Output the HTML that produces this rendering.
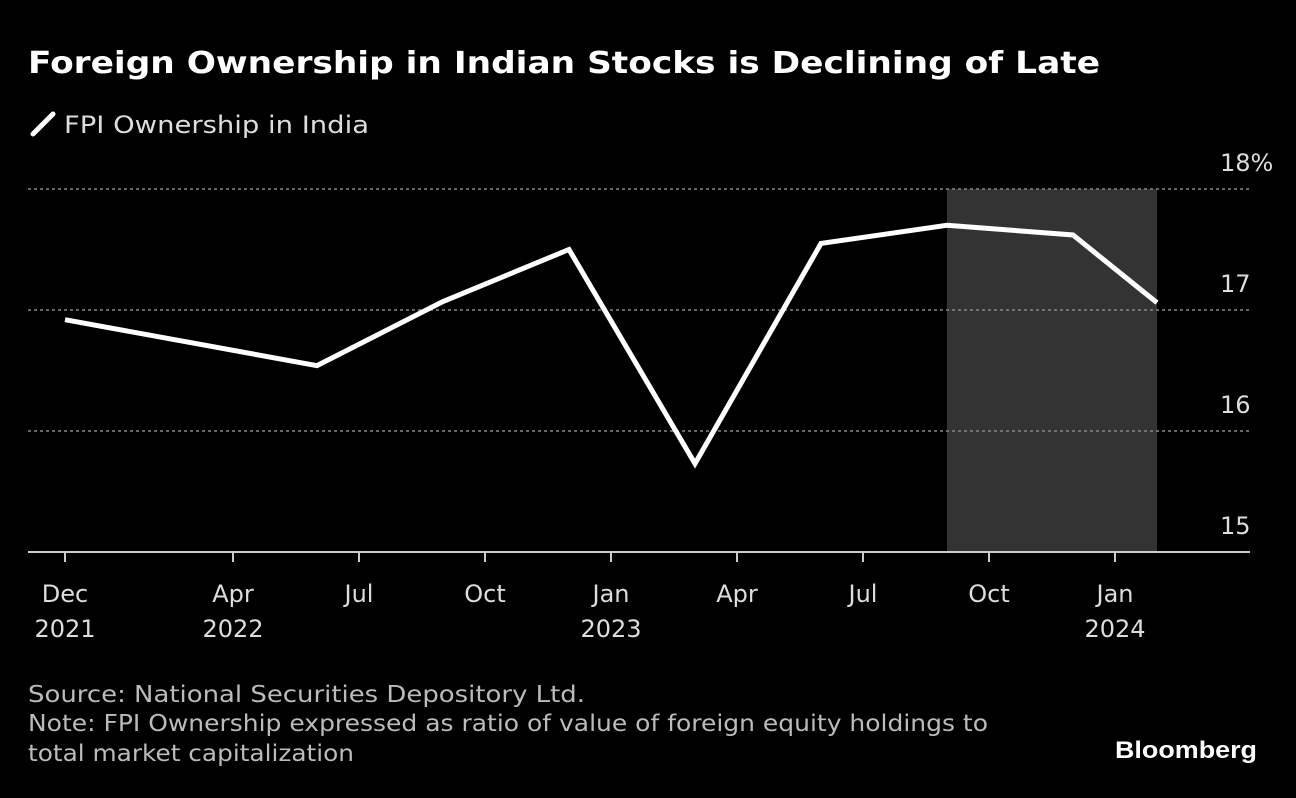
<!DOCTYPE html>
<html><head><meta charset="utf-8"><style>
body{margin:0;background:#000;width:1296px;height:794px;overflow:hidden;font-family:"DejaVu Sans","Liberation Sans",sans-serif;}
</style></head><body>
<svg width="1296" height="794" xmlns="http://www.w3.org/2000/svg" font-family="DejaVu Sans, Liberation Sans, sans-serif">
<text x="28" y="73" fill="#fff" font-size="30" font-weight="bold" textLength="1072" lengthAdjust="spacingAndGlyphs">Foreign Ownership in Indian Stocks is Declining of Late</text>
<g>
<line x1="33" y1="134" x2="53" y2="114" stroke="#fff" stroke-width="5" stroke-linecap="round"/>
<text x="64" y="133" fill="#ddd" font-size="24" textLength="305" lengthAdjust="spacingAndGlyphs">FPI Ownership in India</text>
</g>
<g id="plot"></g>
<text x="28" y="702" fill="#bbb" font-size="23" textLength="557" lengthAdjust="spacingAndGlyphs">Source: National Securities Depository Ltd.</text>
<text x="28" y="731" fill="#bbb" font-size="23" textLength="960" lengthAdjust="spacingAndGlyphs">Note: FPI Ownership expressed as ratio of value of foreign equity holdings to</text>
<text x="28" y="761" fill="#bbb" font-size="23" textLength="326" lengthAdjust="spacingAndGlyphs">total market capitalization</text>
<text x="1115" y="758" fill="#fff" font-size="24" font-weight="bold" font-family="Liberation Sans, sans-serif" textLength="142" lengthAdjust="spacingAndGlyphs">Bloomberg</text>
</svg>
<script>
const monthIdx=[0,6,9,12,15,18,21,24,26];
const values=[16.92,16.54,17.07,17.5,15.73,17.55,17.7,17.62,17.06];
const yTicks=[15,16,17,18];
const yTickLabels=["15","16","17","18%"];
const xTickIdx=[0,4,7,10,13,16,19,22,25];
const xTickTop=["Dec","Apr","Jul","Oct","Jan","Apr","Jul","Oct","Jan"];
const xTickBottom=["2021","2022","","","2023","","","","2024"];
const shadeRange=[21,26];
const NS="http://www.w3.org/2000/svg";
const g=document.getElementById('plot');
const X=i=>65+i*42;
const Y=v=>552-(v-15)*121;
function mk(t,a){const e=document.createElementNS(NS,t);for(const k in a)e.setAttribute(k,a[k]);g.appendChild(e);return e;}
let r=mk('rect',{x:X(shadeRange[0]),y:Y(18),width:X(shadeRange[1])-X(shadeRange[0]),height:Y(15)-Y(18),fill:'#333'});


yTicks.forEach((v,i)=>{
 if(v>15){let l=mk('line',{x1:28,x2:1250,y1:Y(v),y2:Y(v),stroke:'#888','stroke-width':1.5,'stroke-dasharray':'3,3'});
 
 }
 let t=mk('text',{x:1220,y:Y(v)-18,fill:'#ddd','font-size':24,'text-anchor':'start'});t.textContent=yTickLabels[i];
 
 
});
let ax=mk('line',{x1:28,x2:1250,y1:552,y2:552,stroke:'#ccc','stroke-width':2});


xTickIdx.forEach((m,i)=>{
 let tk=mk('line',{x1:X(m),x2:X(m),y1:552,y2:562,stroke:'#ccc','stroke-width':2});
 
 
 let t=mk('text',{x:X(m),y:602,fill:'#ddd','font-size':24,'text-anchor':'middle'});t.textContent=xTickTop[i];
 
 
 if(xTickBottom[i]){let t2=mk('text',{x:X(m),y:637,fill:'#ddd','font-size':24,'text-anchor':'middle'});t2.textContent=xTickBottom[i];
 
 }
});
let p=mk('polyline',{points:monthIdx.map((m,i)=>X(m)+','+Y(values[i])).join(' '),fill:'none',stroke:'#fff','stroke-width':5,'stroke-linejoin':'miter'});


</script>
</body></html>
